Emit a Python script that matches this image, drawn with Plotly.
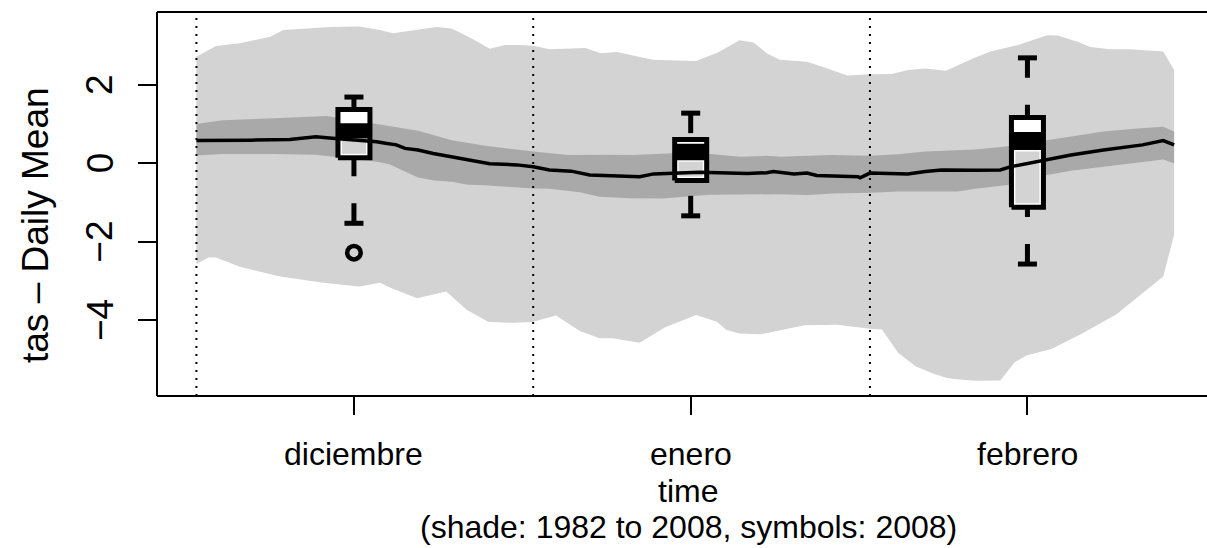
import plotly.graph_objects as go

# ---------------- data ----------------
# day index: 0 = 1 Dec 2007 ... 90 = 29 Feb 2008
lu_day = [0, 1.1, 1.8, 4.0, 5.5, 6.8, 8.0, 10.1, 12.3, 15.0, 16.9, 18.1, 20.3, 22.1, 23.5, 25.3, 27.0, 28.4, 29.6, 31.0,
          32.5, 35.8, 37.2, 38.7, 42.0, 46.0, 48.0, 50.0, 51.3, 52.5, 53.7, 56.2, 57.7, 58.8, 59.9, 62.0, 64.0, 65.5, 67.1, 69.0,
          71.7, 73.1, 75.8, 78.3, 79.3, 81.1, 82.3, 84.1, 85.9, 89.0, 90.0]
lu_val = [2.72, 2.89, 2.99, 3.06, 3.15, 3.23, 3.40, 3.44, 3.48, 3.49, 3.40, 3.32, 3.40, 3.48, 3.44, 3.19, 2.92, 3.02, 3.02, 3.00,
          2.91, 2.94, 2.81, 2.84, 2.64, 2.61, 2.83, 3.14, 3.08, 2.81, 2.64, 2.59, 2.46, 2.34, 2.24, 2.27, 2.28, 2.38, 2.42, 2.36,
          2.70, 2.85, 3.03, 3.27, 3.26, 3.10, 2.97, 2.91, 2.91, 2.85, 2.38]

ll_day = [0, 1.1, 1.8, 4.0, 7.7, 11.7, 15.0, 16.9, 17.8, 20.3, 23.0, 24.9, 26.9, 29.2, 30.9, 33.1, 35.3, 37.1, 38.3, 40.8,
          43.1, 46.0, 47.9, 48.8, 50.0, 52.0, 53.5, 56.0, 59.0, 62.0, 63.1, 64.6, 66.2, 67.8, 69.1, 70.0, 71.7, 74.0, 75.3, 76.4,
          78.7, 81.5, 84.7, 87.6, 89.0, 90.0]
ll_val = [-2.57, -2.40, -2.40, -2.64, -2.89, -3.05, -3.14, -3.05, -3.17, -3.44, -3.27, -3.74, -4.05, -4.07, -4.05, -3.88, -4.28, -4.46, -4.46, -4.58,
          -4.19, -3.87, -4.04, -4.25, -4.34, -4.36, -4.27, -4.13, -4.12, -4.22, -4.24, -4.83, -5.18, -5.36, -5.48, -5.51, -5.55, -5.54, -5.08, -4.90,
          -4.74, -4.35, -3.85, -3.20, -2.89, -1.82]

du_day = [0, 2.4, 7.1, 10.0, 12.0, 16.6, 17.7, 20.4, 23.5, 26.6, 31.0, 32.5, 34.2, 37.3, 40.2, 44.5, 46.4, 50.0, 52.5, 53.7,
          58.4, 62.0, 64.6, 67.1, 71.7, 74.3, 77.4, 80.5, 83.5, 86.6, 89.0, 90.0]
du_val = [1.00, 1.10, 1.15, 1.19, 1.21, 1.00, 0.95, 0.83, 0.59, 0.45, 0.30, 0.25, 0.21, 0.22, 0.21, 0.26, 0.26, 0.17, 0.19, 0.17,
          0.21, 0.19, 0.23, 0.30, 0.35, 0.42, 0.55, 0.68, 0.81, 0.89, 0.93, 0.81]

dl_day = [0, 2.4, 7.1, 11.0, 16.6, 17.7, 20.4, 21.9, 23.5, 25.0, 26.6, 31.0, 32.5, 35.3, 37.1, 39.9, 42.9, 47.2, 53.7, 56.3,
          58.6, 62.0, 64.6, 70.1, 71.7, 74.9, 77.4, 80.5, 83.5, 86.6, 89.0, 90.0]
dl_val = [0.20, 0.24, 0.24, 0.22, 0.04, -0.02, -0.36, -0.44, -0.47, -0.55, -0.56, -0.64, -0.65, -0.74, -0.85, -0.89, -0.90, -0.80, -0.79, -0.81,
          -0.77, -0.75, -0.72, -0.72, -0.65, -0.55, -0.34, -0.19, -0.09, 0.02, 0.10, 0.00]

m_day = [0, 4.0, 5.0, 8.6, 11.0, 12.5, 16.6, 17.4, 18.4, 19.2, 20.4, 21.8, 24.9, 27.0, 29.5, 31.0, 32.5, 34.5, 36.2, 40.8,
         42.1, 46.3, 50.7, 52.5, 53.1, 55.0, 56.2, 57.1, 60.9, 61.1, 62.0, 64.0, 65.5, 67.1, 68.6, 71.7, 74.0, 74.9, 77.4, 80.5,
         83.5, 86.5, 87.1, 89.0, 90.0]
m_val = [0.58, 0.58, 0.59, 0.61, 0.68, 0.64, 0.55, 0.51, 0.47, 0.38, 0.34, 0.25, 0.09, -0.01, -0.04, -0.09, -0.17, -0.20, -0.30, -0.34,
         -0.27, -0.23, -0.26, -0.24, -0.21, -0.27, -0.25, -0.31, -0.34, -0.37, -0.25, -0.26, -0.27, -0.21, -0.17, -0.18, -0.17, -0.09, 0.04, 0.21,
         0.34, 0.44, 0.47, 0.58, 0.47]

month_start = [0, 31, 62]
month_mid = [14.5, 45.5, 76.5]
month_lab = ["diciembre", "enero", "febrero"]
ytick_vals = [-4, -2, 0, 2]

# 2008 symbols (box per month)
box_pos = [14.5, 45.5, 76.5]
whisker_hi = [1.69, 1.28, 2.69]
q3 = [1.37, 0.61, 1.17]
band_top = [1.02, 0.50, 0.80]
band_bot = [0.63, 0.08, 0.34]
q1 = [0.14, -0.44, -1.12]
whisker_lo = [-1.53, -1.34, -2.57]
out_x = [14.5]
out_y = [-2.28]

ylab = "tas \u2013 Daily Mean"
xlab1 = "time"
xlab2 = "(shade: 1982 to 2008, symbols: 2008)"

# ---------------- style ----------------
W, H = 1207, 548
ML, MR, MT, MB = 157, 0, 12, 152
XR = [-3.63, 93.03]
YR = [-5.936, 3.860]
LIGHT = "#d3d3d3"
DARK = "#a9a9a9"
FONT = "Liberation Sans, Arial, Helvetica, sans-serif"
FSX = 32
FSY = 37
px_day = (W - ML - MR) / (XR[1] - XR[0])
px_unit = (H - MT - MB) / (YR[1] - YR[0])
BOX_HW = 16.0 / px_day
STAPLE_HW = 9.5 / px_day
LW_BOX = 5

fig = go.Figure()


def poly(xs, ys, color):
    fig.add_trace(go.Scatter(x=xs, y=ys, mode="lines", fill="toself", fillcolor=color,
                             line=dict(width=0, color=color), hoverinfo="skip"))


poly(lu_day + ll_day[::-1], lu_val + ll_val[::-1], LIGHT)
poly(du_day + dl_day[::-1], du_val + dl_val[::-1], DARK)

for i, c in enumerate(box_pos):
    l, r = c - BOX_HW, c + BOX_HW
    poly([l, r, r, l, l], [q1[i], q1[i], q3[i], q3[i], q1[i]], "white")
    gi = BOX_HW - 4.0 / px_day
    y0 = q1[i] + 4.0 / px_unit
    y1 = band_bot[i] - 1.5 / px_unit
    poly([c - gi, c + gi, c + gi, c - gi, c - gi], [y0, y0, y1, y1, y0], LIGHT)
    poly([l, r, r, l, l], [band_bot[i], band_bot[i], band_top[i], band_top[i], band_bot[i]], "black")
    for a, b in ((whisker_hi[i], q3[i]), (whisker_lo[i], q1[i])):
        fig.add_trace(go.Scatter(x=[c, c], y=[a, b], mode="lines",
                                 line=dict(color="black", width=5, dash="20px,27px"), hoverinfo="skip"))
        fig.add_trace(go.Scatter(x=[c - STAPLE_HW, c + STAPLE_HW], y=[a, a], mode="lines",
                                 line=dict(color="black", width=5), hoverinfo="skip"))
    fig.add_trace(go.Scatter(x=[l, r, r, l, l], y=[q1[i], q1[i], q3[i], q3[i], q1[i]], mode="lines",
                             line=dict(color="black", width=LW_BOX), hoverinfo="skip"))

fig.add_trace(go.Scatter(x=out_x, y=out_y, mode="markers",
                         marker=dict(symbol="circle-open", size=13.5, color="black", line=dict(width=4.5)),
                         hoverinfo="skip"))

fig.add_trace(go.Scatter(x=m_day, y=m_val, mode="lines", line=dict(color="black", width=3.5), hoverinfo="skip"))

shapes = []
for d in month_start:
    shapes.append(dict(type="line", xref="x", yref="paper", x0=d, x1=d, y0=0, y1=1, layer="above",
                       line=dict(color="black", width=2, dash="2px,6px")))
for (x0, y0, x1, y1) in ((0, 0, 0, 1), (0, 1, 1, 1), (0, 0, 1, 0)):
    shapes.append(dict(type="line", xref="paper", yref="paper", x0=x0, y0=y0, x1=x1, y1=y1, layer="above",
                       line=dict(color="black", width=2)))

ann = []
for v in ytick_vals:
    ann.append(dict(x=0, y=v, xref="paper", yref="y", xshift=100 - ML, text=str(v).replace("-", "\u2212"),
                    textangle=-90, showarrow=False, xanchor="center", yanchor="middle",
                    font=dict(family=FONT, size=FSY, color="black")))
for v, t in zip(month_mid, month_lab):
    ann.append(dict(x=v, y=0, xref="x", yref="paper", yshift=-(454 - (H - MB)), text=t, showarrow=False,
                    xanchor="center", yanchor="middle", font=dict(family=FONT, size=FSX, color="black")))
xc = (688 - ML) / (W - ML - MR)
ann.append(dict(x=xc, y=0, xref="paper", yref="paper", yshift=-(491 - (H - MB)), text=xlab1, showarrow=False,
                xanchor="center", yanchor="middle", font=dict(family=FONT, size=FSX, color="black")))
ann.append(dict(x=xc, y=0, xref="paper", yref="paper", yshift=-(527 - (H - MB)), text=xlab2, showarrow=False,
                xanchor="center", yanchor="middle", font=dict(family=FONT, size=FSX, color="black")))
ann.append(dict(x=0, y=(H - MB - 225) / (H - MT - MB), xref="paper", yref="paper", xshift=35 - ML, text=ylab,
                textangle=-90, showarrow=False, xanchor="center", yanchor="middle",
                font=dict(family=FONT, size=FSY, color="black")))

fig.update_layout(
    width=W, height=H, margin=dict(l=ML, r=MR, t=MT, b=MB, pad=0),
    paper_bgcolor="white", plot_bgcolor="white", showlegend=False,
    shapes=shapes, annotations=ann,
    xaxis=dict(range=XR, tickvals=month_mid, ticks="outside", ticklen=18, tickwidth=1.5, tickcolor="black",
               showticklabels=False, showgrid=False, zeroline=False, showline=False),
    yaxis=dict(range=YR, tickvals=ytick_vals, ticks="outside", ticklen=18, tickwidth=1.5, tickcolor="black",
               showticklabels=False, showgrid=False, zeroline=False, showline=False),
)

fig.write_html("out.html", config={"displayModeBar": False},
               post_script="document.body.style.margin='0px';")
